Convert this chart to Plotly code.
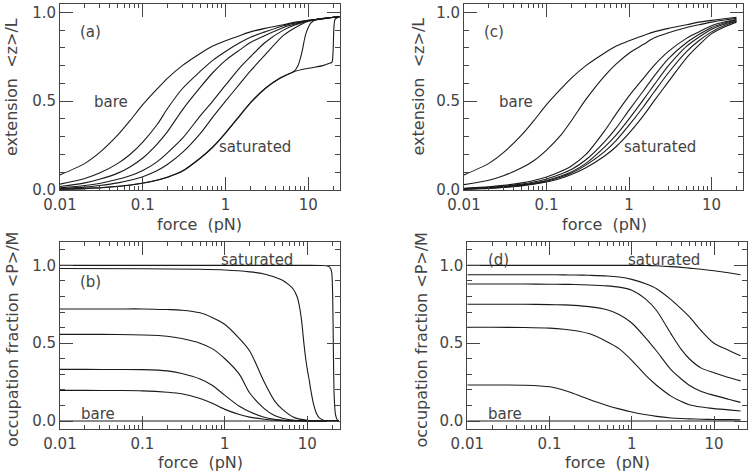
import math
import plotly.graph_objects as go

# ---------------- data ----------------
# Panel (a): extension vs force
force_a = [0.01, 0.02, 0.03, 0.05, 0.07, 0.1, 0.15, 0.2, 0.3, 0.5, 0.7, 1, 1.5, 2, 3, 5, 7, 10, 15, 20, 24]
a_bare = [0.085, 0.15, 0.21, 0.31, 0.39, 0.48, 0.57, 0.63, 0.70, 0.77, 0.81, 0.84, 0.87, 0.89, 0.91, 0.93, 0.945, 0.955, 0.965, 0.972, 0.976]
a_p20 = [0.033, 0.065, 0.095, 0.15, 0.20, 0.27, 0.37, 0.46, 0.57, 0.67, 0.73, 0.78, 0.83, 0.86, 0.89, 0.925, 0.94, 0.955, 0.965, 0.972, 0.976]
a_p33 = [0.02, 0.04, 0.06, 0.095, 0.13, 0.18, 0.26, 0.33, 0.45, 0.58, 0.66, 0.73, 0.79, 0.83, 0.87, 0.915, 0.935, 0.953, 0.965, 0.972, 0.976]
a_p56 = [0.012, 0.025, 0.037, 0.06, 0.08, 0.11, 0.16, 0.21, 0.29, 0.42, 0.50, 0.59, 0.69, 0.75, 0.83, 0.90, 0.93, 0.952, 0.964, 0.972, 0.976]
a_p72 = [0.008, 0.016, 0.025, 0.04, 0.055, 0.075, 0.11, 0.145, 0.21, 0.32, 0.41, 0.50, 0.60, 0.67, 0.76, 0.87, 0.915, 0.95, 0.963, 0.971, 0.976]
force_a98 = [0.01, 0.02, 0.03, 0.05, 0.07, 0.1, 0.15, 0.2, 0.3, 0.5, 0.7, 1, 1.5, 2, 3, 4.6, 6.7, 7.5, 8, 8.5, 9, 9.5, 10.7, 12.9, 16, 20, 24]
a_p98 = [0.005, 0.009, 0.013, 0.021, 0.028, 0.039, 0.056, 0.073, 0.107, 0.182, 0.242, 0.322, 0.422, 0.492, 0.572, 0.632, 0.668, 0.70, 0.74, 0.79, 0.85, 0.89, 0.94, 0.962, 0.968, 0.972, 0.975]
force_asat = [0.01, 0.02, 0.03, 0.05, 0.07, 0.1, 0.15, 0.2, 0.3, 0.5, 0.7, 1, 1.5, 2, 3, 4.6, 6.7, 10, 15, 18, 19.3, 19.9, 20.4, 21, 22, 24]
a_sat = [0.004, 0.008, 0.012, 0.02, 0.027, 0.038, 0.055, 0.072, 0.105, 0.18, 0.24, 0.32, 0.42, 0.49, 0.57, 0.63, 0.666, 0.685, 0.70, 0.713, 0.72, 0.78, 0.92, 0.96, 0.968, 0.975]

# Panel (b): occupation fraction vs force
force_b = [0.01, 0.02, 0.05, 0.1, 0.2, 0.3, 0.5, 0.7, 1, 1.5, 2, 3, 4, 5, 7, 10, 15, 24]
b_bare = [0.0] * len(force_b)
b_p20 = [0.197, 0.197, 0.196, 0.194, 0.185, 0.175, 0.145, 0.115, 0.075, 0.042, 0.025, 0.012, 0.006, 0.003, 0.001, 0.0, 0.0, 0.0]
b_p33 = [0.332, 0.332, 0.331, 0.33, 0.322, 0.305, 0.27, 0.23, 0.165, 0.095, 0.06, 0.025, 0.012, 0.006, 0.002, 0.0, 0.0, 0.0]
b_p56 = [0.557, 0.557, 0.556, 0.553, 0.545, 0.53, 0.50, 0.465, 0.40, 0.30, 0.18, 0.08, 0.035, 0.018, 0.005, 0.001, 0.0, 0.0]
b_p72 = [0.72, 0.72, 0.72, 0.72, 0.716, 0.712, 0.695, 0.665, 0.62, 0.53, 0.45, 0.25, 0.13, 0.075, 0.022, 0.005, 0.001, 0.0]
force_b98 = [0.01, 0.1, 0.5, 1, 2, 3, 4, 5, 6, 6.7, 7.5, 8, 8.5, 9, 9.5, 10, 10.6, 11, 12, 13, 14, 16, 24]
b_p98 = [0.98, 0.978, 0.975, 0.97, 0.958, 0.945, 0.925, 0.905, 0.875, 0.85, 0.80, 0.74, 0.65, 0.52, 0.41, 0.33, 0.255, 0.2, 0.1, 0.045, 0.02, 0.004, 0.0]
force_bsat = [0.01, 1, 10, 15, 17, 18.5, 19.3, 19.8, 20.3, 20.7, 21.2, 22, 23, 24]
b_sat = [1.0, 1.0, 1.0, 0.999, 0.997, 0.99, 0.975, 0.95, 0.8, 0.45, 0.15, 0.04, 0.01, 0.003]

# Panel (c): extension vs force (second system)
force_c = [0.01, 0.02, 0.03, 0.05, 0.07, 0.1, 0.15, 0.2, 0.3, 0.5, 0.7, 1, 1.5, 2, 3, 5, 7, 10, 15, 20]
c_bare = [0.085, 0.15, 0.21, 0.31, 0.39, 0.48, 0.57, 0.63, 0.70, 0.77, 0.81, 0.84, 0.87, 0.89, 0.91, 0.93, 0.945, 0.955, 0.965, 0.972]
c_p23 = [0.03, 0.055, 0.08, 0.125, 0.165, 0.225, 0.31, 0.39, 0.51, 0.64, 0.71, 0.77, 0.82, 0.855, 0.885, 0.915, 0.93, 0.945, 0.958, 0.966]
c_p60 = [0.01, 0.018, 0.026, 0.04, 0.053, 0.073, 0.105, 0.135, 0.2, 0.33, 0.43, 0.53, 0.63, 0.70, 0.78, 0.855, 0.89, 0.925, 0.948, 0.96]
c_p75 = [0.008, 0.015, 0.021, 0.033, 0.045, 0.062, 0.09, 0.115, 0.17, 0.27, 0.35, 0.45, 0.56, 0.64, 0.74, 0.83, 0.875, 0.915, 0.943, 0.957]
c_p88 = [0.006, 0.012, 0.018, 0.029, 0.039, 0.054, 0.079, 0.102, 0.15, 0.24, 0.31, 0.40, 0.51, 0.59, 0.70, 0.81, 0.86, 0.905, 0.937, 0.953]
c_p94 = [0.005, 0.011, 0.016, 0.026, 0.036, 0.05, 0.073, 0.095, 0.14, 0.215, 0.28, 0.365, 0.47, 0.55, 0.66, 0.78, 0.84, 0.89, 0.93, 0.95]
c_sat = [0.004, 0.009, 0.014, 0.023, 0.032, 0.045, 0.066, 0.087, 0.125, 0.19, 0.245, 0.32, 0.42, 0.50, 0.61, 0.745, 0.815, 0.88, 0.922, 0.945]

# Panel (d): occupation fraction vs force (second system)
force_d = [0.01, 0.02, 0.05, 0.1, 0.15, 0.2, 0.3, 0.5, 0.7, 1, 1.5, 2, 3, 4, 5, 7, 10, 15, 21]
d_bare = [0.0] * len(force_d)
d_p23 = [0.232, 0.232, 0.23, 0.22, 0.198, 0.175, 0.14, 0.10, 0.078, 0.058, 0.04, 0.03, 0.02, 0.016, 0.014, 0.012, 0.01, 0.009, 0.008]
d_p60 = [0.602, 0.602, 0.601, 0.597, 0.59, 0.582, 0.562, 0.51, 0.465, 0.39, 0.29, 0.23, 0.16, 0.125, 0.105, 0.09, 0.08, 0.072, 0.065]
d_p75 = [0.75, 0.75, 0.75, 0.748, 0.746, 0.743, 0.735, 0.715, 0.685, 0.63, 0.53, 0.45, 0.33, 0.27, 0.23, 0.19, 0.165, 0.14, 0.12]
d_p88 = [0.88, 0.88, 0.88, 0.879, 0.878, 0.877, 0.874, 0.868, 0.86, 0.84, 0.78, 0.71, 0.56, 0.46, 0.40, 0.34, 0.31, 0.28, 0.258]
d_p94 = [0.94, 0.94, 0.94, 0.94, 0.939, 0.938, 0.936, 0.932, 0.925, 0.91, 0.88, 0.85, 0.78, 0.72, 0.67, 0.58, 0.50, 0.455, 0.42]
d_sat = [1.0, 1.0, 1.0, 1.0, 1.0, 1.0, 1.0, 1.0, 1.0, 1.0, 0.999, 0.997, 0.992, 0.987, 0.982, 0.975, 0.965, 0.952, 0.94]

x_tickvals = [0.01, 0.1, 1, 10]
x_ticktext = ["0.01", "0.1", "1", "10"]
y_tickvals = [0.0, 0.5, 1.0]
y_ticktext = ["0.0", "0.5", "1.0"]

# ---------------- figure ----------------
W, H = 751, 474
FONT = "DejaVu Sans"
TXT = "#444444"
AX = "#444444"
LINE = "#1a1a1a"

def px_x(p):
    return p / W

def px_y(p):
    return 1 - p / H

fig = go.Figure()

panels = [
    ("x", "y", [(force_a, a_bare), (force_a, a_p20), (force_a, a_p33), (force_a, a_p56),
                (force_a, a_p72), (force_a98, a_p98), (force_asat, a_sat)]),
    ("x2", "y2", [(force_b, b_bare), (force_b, b_p20), (force_b, b_p33), (force_b, b_p56),
                  (force_b, b_p72), (force_b98, b_p98), (force_bsat, b_sat)]),
    ("x3", "y3", [(force_c, c_bare), (force_c, c_p23), (force_c, c_p60), (force_c, c_p75),
                  (force_c, c_p88), (force_c, c_p94), (force_c, c_sat)]),
    ("x4", "y4", [(force_d, d_bare), (force_d, d_p23), (force_d, d_p60), (force_d, d_p75),
                  (force_d, d_p88), (force_d, d_p94), (force_d, d_sat)]),
]
for xa, ya, series in panels:
    for fx, vy in series:
        fig.add_trace(go.Scatter(x=fx, y=vy, xaxis=xa, yaxis=ya, mode="lines",
                                 line=dict(color=LINE, width=1.1, shape="spline", smoothing=0.8),
                                 showlegend=False, hoverinfo="skip", cliponaxis=True))

minor_x = [k * 10 ** e for e in (-2, -1, 0) for k in range(2, 10)] + [20]
minor_y = [round(0.1 * i, 2) for i in range(-1, 12) if i not in (0, 5, 10)]

def xaxis(domain, xmax, anchor):
    return dict(type="log", domain=domain, range=[-2, math.log10(xmax)], anchor=anchor,
                showline=True, linecolor=AX, linewidth=1, mirror="ticks",
                ticks="inside", ticklen=13, tickwidth=1, tickcolor=AX,
                tickvals=x_tickvals, ticktext=x_ticktext, ticklabelstandoff=1,
                minor=dict(ticks="inside", ticklen=4, tickwidth=1, tickcolor=AX, tickvals=minor_x),
                showgrid=False, zeroline=False, automargin=False,
                tickfont=dict(family=FONT, size=15, color=TXT))

def yaxis(domain, yr, anchor):
    return dict(domain=domain, range=yr, anchor=anchor,
                showline=True, linecolor=AX, linewidth=1, mirror="ticks",
                ticks="inside", ticklen=13, tickwidth=1, tickcolor=AX,
                tickvals=y_tickvals, ticktext=y_ticktext,
                minor=dict(ticks="inside", ticklen=5, tickwidth=1, tickcolor=AX, tickvals=minor_y),
                showgrid=False, zeroline=False, automargin=False,
                tickfont=dict(family=FONT, size=15, color=TXT))

top_y = [px_y(190), px_y(4)]
bot_y = [px_y(429.3), px_y(242)]
fig.update_layout(
    width=W, height=H, margin=dict(l=0, r=0, t=0, b=0, pad=0, autoexpand=False),
    paper_bgcolor="white", plot_bgcolor="white", showlegend=False,
    xaxis=xaxis([px_x(60), px_x(339.5)], 23.8, "y"),
    yaxis=yaxis(top_y, [0, 1.047], "x"),
    xaxis2=xaxis([px_x(60), px_x(340)], 24.9, "y2"),
    yaxis2=yaxis(bot_y, [-0.053, 1.15], "x2"),
    xaxis3=xaxis([px_x(464), px_x(743.3)], 24.2, "y3"),
    yaxis3=yaxis(top_y, [0, 1.047], "x3"),
    xaxis4=xaxis([px_x(467.3), px_x(747.3)], 25.4, "y4"),
    yaxis4=yaxis(bot_y, [-0.053, 1.15], "x4"),
)

def label(text, x, y, anchor="left", size=15, angle=0):
    fig.add_annotation(text=text, x=px_x(x), y=px_y(y), xref="paper", yref="paper",
                       xanchor=anchor, yanchor="middle", showarrow=False, textangle=angle,
                       borderpad=0, font=dict(family=FONT, size=size, color=TXT))

# in-plot labels
label("(a)", 79, 32)
label("bare", 93, 101.7)
label("saturated", 218, 146.7)
label("(c)", 483, 32)
label("bare", 498, 101.7)
label("saturated", 623, 146.7)
label("saturated", 220, 260.3)
label("(b)", 79, 282)
label("bare", 80, 414.3)
label("(d)", 487, 260.3)
label("saturated", 627, 260.3)
label("bare", 487, 414.3)

# axis titles
label("extension  &lt;z&gt;/L", 12, 87, anchor="center", size=16, angle=-90)
label("extension  &lt;z&gt;/L", 418.5, 87, anchor="center", size=16, angle=-90)
label("occupation fraction &lt;P&gt;/M", 12, 340, anchor="center", size=16, angle=-90)
label("occupation fraction &lt;P&gt;/M", 420.5, 340, anchor="center", size=16, angle=-90)
label("force  (pN)", 199, 224.5, anchor="center", size=16)
label("force  (pN)", 604.5, 224.5, anchor="center", size=16)
label("force  (pN)", 200.8, 462.7, anchor="center", size=16)
label("force  (pN)", 607.5, 462.7, anchor="center", size=16)

# remove the browser's default page margin so the figure sits at the window's top-left corner
fig.write_html("out.html", config={"displayModeBar": False},
               post_script="document.body.style.margin='0px';document.body.style.overflow='hidden';")
